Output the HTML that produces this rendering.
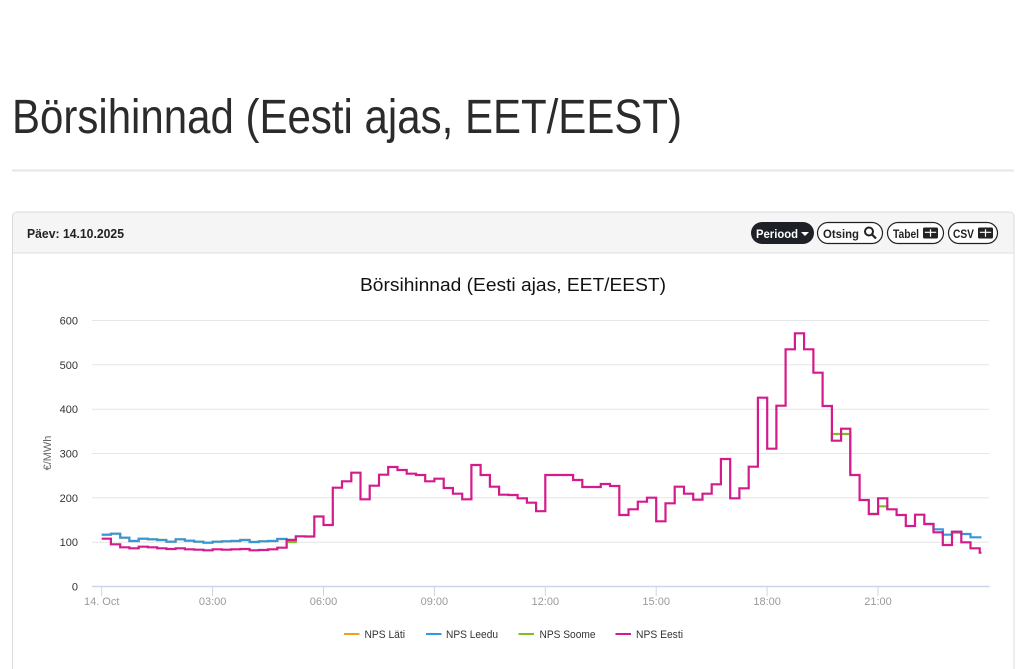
<!DOCTYPE html>
<html><head><meta charset="utf-8"><style>
html,body{margin:0;padding:0;background:#fff;}
svg{display:block;}
text{font-family:"Liberation Sans",sans-serif;}
</style></head><body>
<svg width="1024" height="669" viewBox="0 0 1024 669" xmlns="http://www.w3.org/2000/svg">
<rect width="1024" height="669" fill="#fff"/>
<!-- Page title -->
<text x="12" y="133" font-size="48" fill="#2b2b2b" textLength="670" lengthAdjust="spacingAndGlyphs">Börsihinnad (Eesti ajas, EET/EEST)</text>
<line x1="12" y1="170.5" x2="1014" y2="170.5" stroke="#e6e6e6" stroke-width="2"/>
<!-- Panel -->
<path d="M12.5,680 V216 a4,4 0 0 1 4,-4 H1010 a4,4 0 0 1 4,4 V680" fill="#fff" stroke="#dcdcdc" stroke-width="1"/>
<path d="M13,253 V216.5 a4,4 0 0 1 4,-4 H1009.5 a4,4 0 0 1 4,4 V253 Z" fill="#f5f5f5"/>
<line x1="13" y1="253" x2="1014" y2="253" stroke="#dedede" stroke-width="1"/>
<text x="27" y="238" font-size="13" font-weight="bold" fill="#222" textLength="97" lengthAdjust="spacingAndGlyphs">Päev: 14.10.2025</text>
<!-- Buttons -->
<rect x="751" y="222" width="63" height="22" rx="11" fill="#1e2028"/>
<text x="756" y="238" font-size="12" font-weight="bold" fill="#fff" textLength="42" lengthAdjust="spacingAndGlyphs">Periood</text>
<path d="M801,232 h8 l-4,4 z" fill="#fff"/>
<rect x="817.5" y="222.5" width="65" height="21" rx="10.5" fill="#fff" stroke="#222" stroke-width="1.2"/>
<text x="823" y="238" font-size="12" font-weight="bold" fill="#222" textLength="36" lengthAdjust="spacingAndGlyphs">Otsing</text>
<circle cx="869" cy="231.5" r="4" fill="none" stroke="#222" stroke-width="2"/>
<line x1="872" y1="234.5" x2="876" y2="238.5" stroke="#222" stroke-width="2.2"/>
<rect x="887.5" y="222.5" width="56" height="21" rx="10.5" fill="#fff" stroke="#222" stroke-width="1.2"/>
<text x="893" y="238" font-size="12" font-weight="bold" fill="#222" textLength="26" lengthAdjust="spacingAndGlyphs">Tabel</text>
<rect x="923" y="227.5" width="15" height="11" rx="1.5" fill="#222"/>
<path d="M924.8,232.3 h11.4 M930.5,229.3 v7.5" stroke="#fff" stroke-width="1.2"/>
<rect x="948.5" y="222.5" width="49" height="21" rx="10.5" fill="#fff" stroke="#222" stroke-width="1.2"/>
<text x="953" y="238" font-size="12" font-weight="bold" fill="#222" textLength="21" lengthAdjust="spacingAndGlyphs">CSV</text>
<rect x="978" y="227.5" width="15" height="11" rx="1.5" fill="#222"/>
<path d="M979.8,232.3 h11.4 M985.5,229.3 v7.5" stroke="#fff" stroke-width="1.2"/>
<!-- Chart title -->
<text x="360" y="291" font-size="18" fill="#111" textLength="306" lengthAdjust="spacingAndGlyphs">Börsihinnad (Eesti ajas, EET/EEST)</text>
<!-- Grid -->
<g stroke="#e6e6e6" stroke-width="1">
<line x1="92" y1="320.5" x2="989" y2="320.5"/>
<line x1="92" y1="364.8" x2="989" y2="364.8"/>
<line x1="92" y1="409.2" x2="989" y2="409.2"/>
<line x1="92" y1="453.5" x2="989" y2="453.5"/>
<line x1="92" y1="497.8" x2="989" y2="497.8"/>
<line x1="92" y1="542.2" x2="989" y2="542.2"/>
</g>
<g font-size="11" fill="#333" text-anchor="end">
<text x="78" y="324.5">600</text>
<text x="78" y="368.8">500</text>
<text x="78" y="413.2">400</text>
<text x="78" y="457.5">300</text>
<text x="78" y="501.8">200</text>
<text x="78" y="546.2">100</text>
<text x="78" y="590.5">0</text>
</g>
<text transform="translate(51,453) rotate(-90)" font-size="11" fill="#666" text-anchor="middle">€/MWh</text>
<!-- X axis -->
<line x1="92" y1="586.5" x2="989.5" y2="586.5" stroke="#ccd6eb" stroke-width="1.5"/>
<g stroke="#ccd6eb" stroke-width="1">
<line x1="101.7" y1="586.5" x2="101.7" y2="596"/>
<line x1="212.6" y1="586.5" x2="212.6" y2="596"/>
<line x1="323.5" y1="586.5" x2="323.5" y2="596"/>
<line x1="434.4" y1="586.5" x2="434.4" y2="596"/>
<line x1="545.3" y1="586.5" x2="545.3" y2="596"/>
<line x1="656.2" y1="586.5" x2="656.2" y2="596"/>
<line x1="767.1" y1="586.5" x2="767.1" y2="596"/>
<line x1="878" y1="586.5" x2="878" y2="596"/>
</g>
<g font-size="11" fill="#9a9a9a" text-anchor="middle">
<text x="101.7" y="605">14. Oct</text>
<text x="212.6" y="605">03:00</text>
<text x="323.5" y="605">06:00</text>
<text x="434.4" y="605">09:00</text>
<text x="545.3" y="605">12:00</text>
<text x="656.2" y="605">15:00</text>
<text x="767.1" y="605">18:00</text>
<text x="878" y="605">21:00</text>
</g>
<!-- Series -->
<g fill="none" stroke-width="2.2" stroke-linejoin="miter">
<path stroke="#f0a020" d="M101.7,534.7 H110.9 V533.7 H120.2 V537.7 H129.4 V541 H138.7 V538.7 H147.9 V539.3 H157.2 V540 H166.4 V541.7 H175.6 V539.3 H184.9 V540.7 H194.1 V541.7 H203.4 V542.7 H212.6 V541.7 H221.9 V541.3 H231.1 V541 H240.3 V540 H249.6 V542 H258.8 V541.3 H268.1 V541 H277.3 V539 H286.6 V540 H295.8"/>
<path stroke="#3498db" d="M101.7,534.7 H110.9 V533.7 H120.2 V537.7 H129.4 V541 H138.7 V538.7 H147.9 V539.3 H157.2 V540 H166.4 V541.7 H175.6 V539.3 H184.9 V540.7 H194.1 V541.7 H203.4 V542.7 H212.6 V541.7 H221.9 V541.3 H231.1 V541 H240.3 V540 H249.6 V542 H258.8 V541.3 H268.1 V541 H277.3 V539 H286.6 V540 H295.8"/>
<path stroke="#3498db" d="M924.3,524 H933.5 V529.3 H942.8 V534.7 H952 V531.7 H961.3 V534 H970.5 V537.3 H981.5"/>
<path stroke="#7cbf1e" d="M286.6,547.7 V542 H295.8 V536.3"/>
<path stroke="#7cbf1e" d="M831.9,440.7 V434 H850.3 V475"/>
<path stroke="#7cbf1e" d="M868.8,514 H878.1 V506.3 H887.3 V509.3"/>
<path stroke="#7cbf1e" d="M952,532.7 H961.3"/>
<path stroke="#d41b8c" d="M101.7,538.7 H110.9 V544.3 H120.2 V547.3 H129.4 V548.3 H138.7 V546.7 H147.9 V547.3 H157.2 V548.3 H166.4 V549 H175.6 V548.3 H184.9 V549.3 H194.1 V549.7 H203.4 V550.3 H212.6 V549.3 H221.9 V549.7 H231.1 V549.3 H240.3 V549 H249.6 V550.3 H258.8 V550 H268.1 V549.3 H277.3 V547.7 H286.6 V540 H295.8 V536.3 H305 V536.5 H314.3 V516.5 H323.5 V525 H332.8 V487.7 H342 V481.3 H351.3 V472.7 H360.5 V499.3 H369.7 V485.7 H379 V474.7 H388.2 V467 H397.5 V470 H406.7 V473.7 H416 V475 H425.2 V481.3 H434.4 V478.7 H443.7 V488 H452.9 V493.7 H462.2 V499.3 H471.4 V465 H480.6 V475 H489.9 V486.7 H499.1 V494.7 H508.4 V495 H517.6 V498.3 H526.9 V502.7 H536.1 V511.2 H545.3 V475 H554.6 V475 H563.8 V475 H573.1 V480 H582.3 V487 H591.6 V487 H600.8 V484 H610 V486 H619.3 V515 H628.5 V509.3 H637.8 V501.7 H647 V497.7 H656.2 V521.3 H665.5 V503.3 H674.7 V486.7 H684 V493.7 H693.2 V499.7 H702.5 V493.7 H711.7 V484.3 H720.9 V459 H730.2 V498.3 H739.4 V488.3 H748.7 V466.7 H757.9 V397.7 H767.2 V448.7 H776.4 V405.7 H785.6 V349.3 H794.9 V333.3 H804.1 V349.3 H813.4 V372.7 H822.6 V406 H831.9 V440.7 H841.1 V428.7 H850.3 V475 H859.6 V500 H868.8 V514 H878.1 V498.3 H887.3 V509.3 H896.6 V515 H905.8 V526 H915 V514.7 H924.3 V524 H933.5 V532.3 H942.8 V545 H952 V531.7 H961.3 V542.3 H970.5 V548.3 H979.7 V552.7 H981.5"/>
</g>
<!-- Legend -->
<g stroke-width="2">
<line x1="344" y1="634" x2="359.5" y2="634" stroke="#f0a020"/>
<line x1="426" y1="634" x2="441.5" y2="634" stroke="#3498db"/>
<line x1="518.5" y1="634" x2="534" y2="634" stroke="#7cbf1e"/>
<line x1="615.5" y1="634" x2="631" y2="634" stroke="#d41b8c"/>
</g>
<g font-size="11" fill="#333">
<text x="364.5" y="638" textLength="40.5" lengthAdjust="spacingAndGlyphs">NPS Läti</text>
<text x="446" y="638" textLength="52" lengthAdjust="spacingAndGlyphs">NPS Leedu</text>
<text x="539.5" y="638" textLength="56" lengthAdjust="spacingAndGlyphs">NPS Soome</text>
<text x="636" y="638" textLength="47" lengthAdjust="spacingAndGlyphs">NPS Eesti</text>
</g>
</svg>
</body></html>
